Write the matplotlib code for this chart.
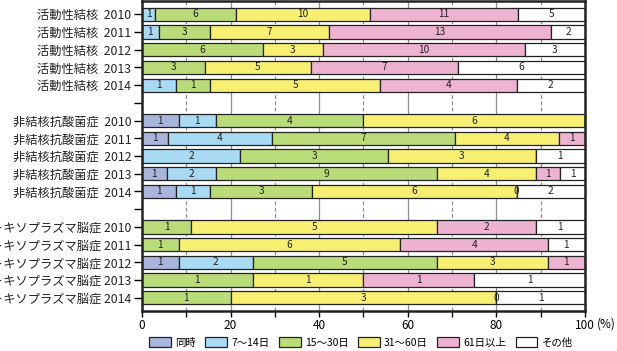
"""Stacked horizontal bars: interval distribution by disease and year."""

import numpy as np
import matplotlib
matplotlib.use("Agg")
import matplotlib.pyplot as plt
from matplotlib.patches import Patch
from matplotlib.transforms import offset_copy

plt.rcParams["font.family"] = ["Noto Sans CJK JP", "DejaVu Sans"]

row_labels = [
    "活動性結核 2010", "活動性結核 2011", "活動性結核 2012", "活動性結核 2013", "活動性結核 2014",
    "非結核抗酸菌症 2010", "非結核抗酸菌症 2011", "非結核抗酸菌症 2012", "非結核抗酸菌症 2013", "非結核抗酸菌症 2014",
    "トキソプラズマ脳症 2010", "トキソプラズマ脳症 2011", "トキソプラズマ脳症 2012", "トキソプラズマ脳症 2013", "トキソプラズマ脳症 2014",
]
categories = ["同時", "7～14日", "15～30日", "31～60日", "61日以上", "その他"]
colors = ["#a9b5dd", "#a9daf4", "#b9db78", "#f7ef72", "#efb3d2", "#ffffff"]

same_time = [0, 0, 0, 0, 0, 1, 1, 0, 1, 1, 0, 0, 1, 0, 0]
d7_14 = [1, 1, 0, 0, 1, 1, 4, 2, 2, 1, 0, 0, 2, 0, 0]
d15_30 = [6, 3, 6, 3, 1, 4, 7, 3, 9, 3, 1, 1, 5, 1, 1]
d31_60 = [10, 7, 3, 5, 5, 6, 4, 3, 4, 6, 5, 6, 3, 1, 3]
d61_plus = [11, 13, 10, 7, 4, 0, 1, 0, 1, 0, 2, 4, 1, 1, 0]
other = [5, 2, 3, 6, 2, 0, 0, 1, 1, 2, 1, 1, 0, 1, 1]

# zero counts that are still printed on the chart (row index, category index)
zero_labels = [(9, 4), (14, 4)]

counts = np.array([same_time, d7_14, d15_30, d31_60, d61_plus, other], dtype=float)
totals = counts.sum(axis=0)
pct = counts / totals * 100

# one blank slot between disease groups
ypos = np.array([i + (i // 5) for i in range(len(row_labels))])

fig = plt.figure(figsize=(6.17, 3.51), dpi=100)
ax = fig.add_axes([0.230, 0.114, 0.718, 0.883])

for x in range(10, 100, 10):
    if x % 20 == 0:
        ax.axvline(x, color="#8c8c8c", lw=0.9, zorder=0)
    else:
        ax.axvline(x, color="#8c8c8c", lw=0.9, ls=(0, (3, 2)), zorder=0)

left = np.zeros(len(row_labels))
for k, (cat, col) in enumerate(zip(categories, colors)):
    ax.barh(ypos, pct[k], left=left, height=0.75, color=col,
            edgecolor="#222222", linewidth=0.9, zorder=2)
    for i in range(len(row_labels)):
        if counts[k, i] > 0 or (i, k) in zero_labels:
            ax.text(left[i] + pct[k, i] / 2, ypos[i], f"{int(counts[k, i])}",
                    ha="center", va="center", fontsize=7.3, color="#222222", zorder=3)
    left += pct[k]

ax.set_xlim(0, 100)
ax.set_ylim(16.75, -0.75)
ax.set_xticks(range(0, 101, 10))
ax.set_xticklabels(["0", "", "20", "", "40", "", "60", "", "80", "", "100"], fontsize=8.5)
ax.set_yticks(range(17))
ylabels = [""] * 17
for i, (lab, y) in enumerate(zip(row_labels, ypos)):
    # long toxoplasma labels keep a single space so they stay mostly in frame
    ylabels[y] = lab if i >= 10 else lab.replace(" ", "  ")
ax.set_yticklabels(ylabels, fontsize=8.8, color="#222222")
ax.tick_params(axis="y", length=6, width=1, pad=1.5)
ax.tick_params(axis="x", length=4, width=1, pad=2)
for s in ax.spines.values():
    s.set_linewidth(1.8)
    s.set_color("#222222")

ax.text(1.0, -0.022, "(%)", transform=offset_copy(ax.transAxes, fig=fig, x=12, y=0, units="dots"),
        ha="left", va="top", fontsize=8.5)

handles = [Patch(facecolor=c, edgecolor="#222222", linewidth=0.9) for c in colors]
fig.legend(handles, categories, loc="center", bbox_to_anchor=(0.585, 0.025), ncol=6,
           frameon=False, fontsize=7.5, handlelength=2.1, handleheight=1.15,
           handletextpad=0.4, columnspacing=0.9)

fig.savefig("out.png", dpi=100)
